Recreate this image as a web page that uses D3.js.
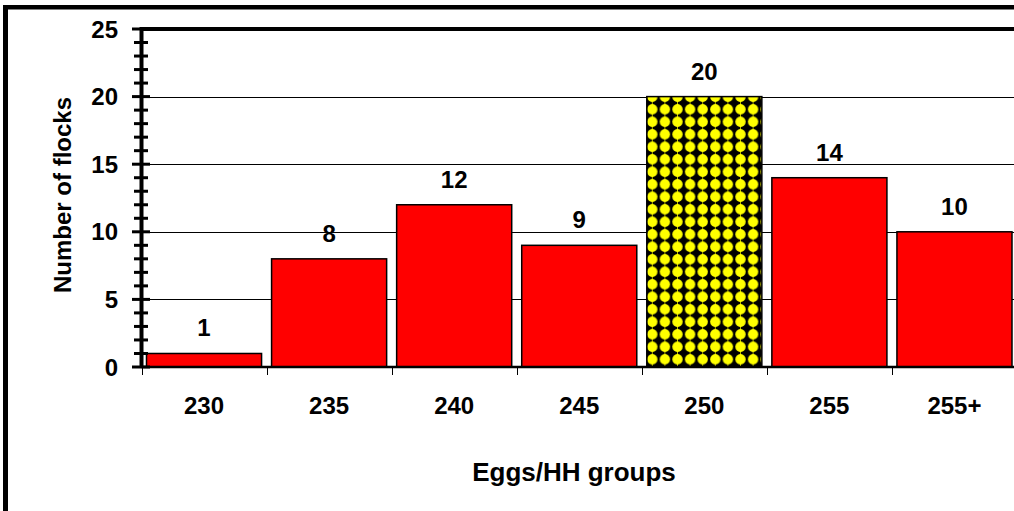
<!DOCTYPE html>
<html><head><meta charset="utf-8">
<script src="https://cdn.jsdelivr.net/npm/d3@7"></script>
<style>
html,body{margin:0;padding:0;background:#fff;overflow:hidden}
text{font-family:"Liberation Sans",Arial,sans-serif;font-weight:bold;fill:#000}
</style></head>
<body>
<svg id="c" width="1014" height="511"></svg>
<script>
const categories = ["230","235","240","245","250","255","255+"];
const values = [1,8,12,9,20,14,10];
const highlight = ["250"];
const yTicks = [0,5,10,15,20,25];
const xTitle = "Eggs/HH groups";
const yTitle = "Number of flocks";

const svg = d3.select("#c");
const L = 141.5, R = 1017, T = 29, B = 367;
const x = d3.scaleBand().domain(categories).range([L, R]).paddingInner(0.08).paddingOuter(0.04);
const y = d3.scaleLinear().domain([0,25]).range([B, T]);

const defs = svg.append("defs");
const pat = defs.append("pattern").attr("id","dots").attr("patternUnits","userSpaceOnUse")
  .attr("width",12.6).attr("height",12.5).attr("x",646).attr("y",3);
pat.append("rect").attr("width",12.6).attr("height",12.5).attr("fill","#000");
pat.append("circle").attr("cx",6.3).attr("cy",6.25).attr("r",5.2).attr("fill","#ffff00");
pat.append("path").attr("d","M6.3,-0.5 L8.8,6.25 L6.3,13 L3.8,6.25 Z").attr("fill","#ffff00");

// frame (left and top only)
svg.append("rect").attr("x",3).attr("y",5).attr("width",5).attr("height",506).attr("fill","#000");
svg.append("rect").attr("x",3).attr("y",5).attr("width",1011).attr("height",4.5).attr("fill","#000");

// gridlines
svg.append("g").selectAll("line").data(yTicks.filter(d=>d>0 && d<25)).join("line")
  .attr("x1",L).attr("x2",1014).attr("y1",d=>Math.round(y(d))+0.5).attr("y2",d=>Math.round(y(d))+0.5)
  .attr("stroke","#000").attr("stroke-width",1);
// top border of plot
svg.append("line").attr("x1",L).attr("x2",1014).attr("y1",y(25)).attr("y2",y(25)).attr("stroke","#000").attr("stroke-width",4);

// bars
svg.append("g").selectAll("rect").data(categories).join("rect")
  .attr("x",d=>x(d)).attr("width",x.bandwidth())
  .attr("y",(d,i)=>y(values[i])).attr("height",(d,i)=>B-y(values[i]))
  .attr("fill",d=>highlight.includes(d)?"url(#dots)":"#ff0000")
  .attr("stroke","#000").attr("stroke-width",1.5);

// value labels
svg.append("g").selectAll("text").data(categories).join("text")
  .attr("x",d=>x(d)+x.bandwidth()/2).attr("y",(d,i)=>y(values[i])-17)
  .attr("text-anchor","middle").attr("font-size",24)
  .text((d,i)=>values[i]);

// x axis
svg.append("line").attr("x1",L).attr("x2",1014).attr("y1",B).attr("y2",B).attr("stroke","#000").attr("stroke-width",2.5);
const bounds = categories.map(d=>x(d)-x.step()*x.paddingInner()/2);
bounds[0] = L;
svg.append("g").selectAll("line").data(bounds).join("line")
  .attr("x1",d=>Math.round(d)+0.5).attr("x2",d=>Math.round(d)+0.5).attr("y1",B).attr("y2",B+8)
  .attr("stroke","#000").attr("stroke-width",1);
svg.append("g").selectAll("text").data(categories).join("text")
  .attr("x",d=>x(d)+x.bandwidth()/2).attr("y",414)
  .attr("text-anchor","middle").attr("font-size",24).text(d=>d);

// y axis
const minor = d3.range(0,26,1);
svg.append("g").selectAll("line").data(minor).join("line")
  .attr("x1",d=>d%5===0?132:134).attr("x2",d=>d%5===0?150:148)
  .attr("y1",d=>y(d)).attr("y2",d=>y(d)).attr("stroke","#000").attr("stroke-width",3);
svg.append("line").attr("x1",L).attr("x2",L).attr("y1",T-2).attr("y2",B+1).attr("stroke","#000").attr("stroke-width",4);
svg.append("g").selectAll("text").data(yTicks).join("text")
  .attr("x",118).attr("y",d=>y(d)+8.5).attr("text-anchor","end").attr("font-size",24).text(d=>d);

// titles
svg.append("text").attr("x",574).attr("y",481).attr("text-anchor","middle").attr("font-size",26).text(xTitle);
svg.append("text").attr("transform","translate(71,195) rotate(-90)").attr("text-anchor","middle").attr("font-size",24).text(yTitle);
</script>
</body></html>
